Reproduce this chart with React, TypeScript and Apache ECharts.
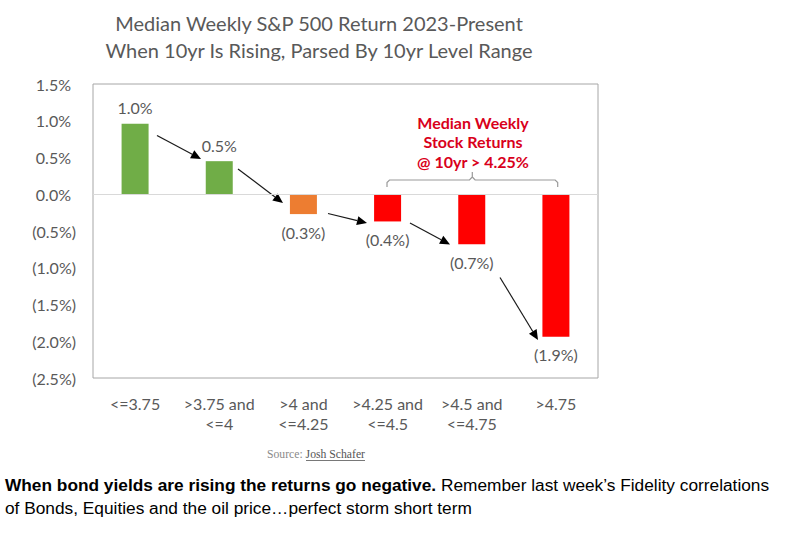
import React, { useEffect, useRef } from "react";
import * as echarts from "echarts";

const categories = [
  "<=3.75",
  ">3.75 and\n<=4",
  ">4 and\n<=4.25",
  ">4.25 and\n<=4.5",
  ">4.5 and\n<=4.75",
  ">4.75",
];
const medianReturns = [0.96, 0.45, -0.27, -0.37, -0.68, -1.94];
const barLabels = ["1.0%", "0.5%", "(0.3%)", "(0.4%)", "(0.7%)", "(1.9%)"];
const barColors = ["#70AD47", "#70AD47", "#ED7D31", "#FF0000", "#FF0000", "#FF0000"];
const yMin = -2.5;
const yMax = 1.5;
const yStep = 0.5;

const titleLines = [
  "Median Weekly S&P 500 Return 2023-Present",
  "When 10yr Is Rising, Parsed By 10yr Level Range",
];
const annotationLines = ["Median Weekly", "Stock Returns", "@ 10yr > 4.25%"];
const captionBold = "When bond yields are rising the returns go negative.";
const captionRest1 = " Remember last week\u2019s Fidelity correlations";
const captionLine2 = "of Bonds, Equities and the oil price\u2026perfect storm short term";

// annotation arrow positions (pixels)
const arrows: [number, number, number, number][] = [
  [157, 135.5, 201, 159],
  [238, 169, 283, 203],
  [328, 213.5, 367, 223],
  [410, 223, 450, 244.5],
  [500, 277.5, 538, 340],
];

const FONT = "Lato, 'Open Sans', sans-serif";

function arrowElements(x1: number, y1: number, x2: number, y2: number) {
  const dx = x2 - x1;
  const dy = y2 - y1;
  const len = Math.sqrt(dx * dx + dy * dy);
  const ux = dx / len;
  const uy = dy / len;
  const headLen = 10;
  const headHalf = 4.5;
  const bx = x2 - ux * headLen;
  const by = y2 - uy * headLen;
  const px = -uy;
  const py = ux;
  return [
    {
      type: "line",
      shape: { x1, y1, x2: bx, y2: by },
      style: { stroke: "#1a1a1a", lineWidth: 1.2 },
      silent: true,
    },
    {
      type: "polygon",
      shape: {
        points: [
          [x2, y2],
          [bx + px * headHalf, by + py * headHalf],
          [bx - px * headHalf, by - py * headHalf],
        ],
      },
      style: { fill: "#000" },
      silent: true,
    },
  ];
}

export default function App() {
  const ref = useRef<HTMLDivElement>(null);

  useEffect(() => {
    if (!ref.current) return;
    const chart = echarts.init(ref.current, null, { renderer: "svg" });

    const graphics: any[] = [];
    titleLines.forEach((t, i) => {
      graphics.push({
        type: "text",
        x: 319,
        y: 23 + i * 27,
        style: {
          text: t,
          fill: "#595959",
          font: `20px ${FONT}`,
          align: "center",
          verticalAlign: "middle",
        },
        silent: true,
      });
    });
    annotationLines.forEach((t, i) => {
      graphics.push({
        type: "text",
        x: 473,
        y: 122 + i * 19.5,
        style: {
          text: t,
          fill: "#D9001B",
          font: `bold 16px ${FONT}`,
          align: "center",
          verticalAlign: "middle",
        },
        silent: true,
      });
    });
    graphics.push({
      type: "polyline",
      shape: {
        points: [
          [387, 187],
          [387, 182.5],
          [389.5, 180],
          [469.5, 180],
          [472.3, 177],
          [472.3, 172],
        ],
      },
      style: { stroke: "#9a9a9a", lineWidth: 1.2, fill: null },
      silent: true,
    });
    graphics.push({
      type: "polyline",
      shape: {
        points: [
          [557.7, 187],
          [557.7, 182.5],
          [555.2, 180],
          [475.1, 180],
          [472.3, 177],
        ],
      },
      style: { stroke: "#9a9a9a", lineWidth: 1.2, fill: null },
      silent: true,
    });
    arrows.forEach((a) => graphics.push(...arrowElements(a[0], a[1], a[2], a[3])));
    graphics.push({
      type: "text",
      x: 267,
      y: 454,
      style: {
        text: "{s|Source: }{l|Josh Schafer}",
        verticalAlign: "middle",
        rich: {
          s: { fill: "#8a8a8a", font: "11.7px 'Liberation Serif', serif" },
          l: { fill: "#555555", font: "11.7px 'Liberation Serif', serif" },
        },
      },
      silent: true,
    });
    graphics.push({
      type: "line",
      shape: { x1: 306, y1: 460.5, x2: 365, y2: 460.5 },
      style: { stroke: "#555555", lineWidth: 0.8 },
      silent: true,
    });
    graphics.push({
      type: "text",
      x: 5,
      y: 485,
      style: {
        text: `{b|${captionBold}}{n|${captionRest1}}`,
        verticalAlign: "middle",
        rich: {
          b: { fill: "#000", font: "bold 17.3px 'Liberation Sans', Arial, sans-serif" },
          n: { fill: "#000", font: "17.3px 'Liberation Sans', Arial, sans-serif" },
        },
      },
      silent: true,
    });
    graphics.push({
      type: "text",
      x: 5,
      y: 508,
      style: {
        text: captionLine2,
        fill: "#000",
        font: "17.3px 'Liberation Sans', Arial, sans-serif",
        verticalAlign: "middle",
      },
      silent: true,
    });

    chart.setOption({
      animation: false,
      backgroundColor: "#fff",
      grid: {
        left: 93,
        right: 189,
        top: 84,
        bottom: 156,
        show: true,
        borderColor: "#a6a6a6",
        borderWidth: 1,
      },
      xAxis: {
        type: "category",
        data: categories,
        axisLine: { show: false },
        axisTick: { show: false },
        axisLabel: {
          color: "#595959",
          fontFamily: FONT,
          fontSize: 16,
          lineHeight: 20,
          margin: 15,
          interval: 0,
        },
      },
      yAxis: {
        type: "value",
        min: yMin,
        max: yMax,
        interval: yStep,
        axisLine: { show: false },
        axisTick: { show: false },
        splitLine: { show: false },
        axisLabel: {
          margin: 17,
          formatter: (v: number) => {
            const s = Math.abs(v).toFixed(1) + "%";
            return v < -1e-9 ? `{n|(${s})}` : `{p|${s}}`;
          },
          rich: {
            p: {
              color: "#595959",
              fontFamily: FONT,
              fontSize: 16,
              padding: [0, 5, 0, 0],
            },
            n: {
              color: "#595959",
              fontFamily: FONT,
              fontSize: 16,
            },
          },
        },
      },
      series: [
        {
          type: "bar",
          barWidth: 27,
          data: medianReturns.map((v, i) => ({
            value: v,
            itemStyle: { color: barColors[i] },
            label: {
              show: true,
              position: v >= 0 ? "top" : "bottom",
              distance: v >= 0 ? 8 : 10,
              formatter: () => barLabels[i],
              color: "#595959",
              fontFamily: FONT,
              fontSize: 16,
            },
          })),
          markLine: {
            silent: true,
            symbol: "none",
            label: { show: false },
            lineStyle: { color: "#d9d9d9", type: "solid", width: 1 },
            data: [{ yAxis: 0 }],
          },
        },
      ],
      graphic: graphics,
    });

    return () => chart.dispose();
  }, []);

  return (
    <div
      ref={ref}
      style={{ position: "absolute", left: 0, top: 0, width: 787, height: 534 }}
    />
  );
}
